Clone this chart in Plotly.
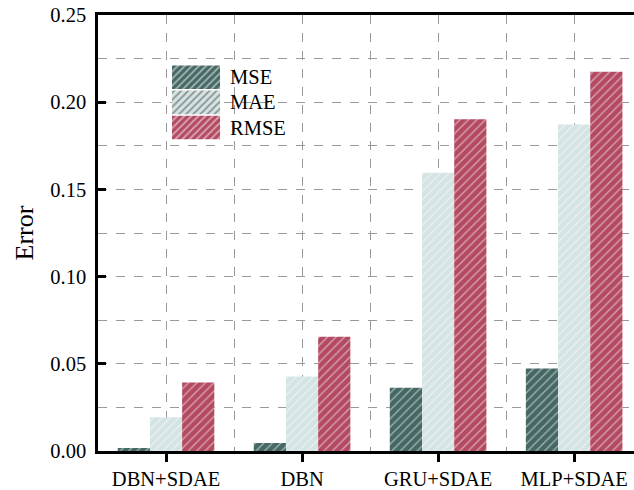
import plotly.graph_objects as go

categories = ["DBN+SDAE", "DBN", "GRU+SDAE", "MLP+SDAE"]
mse = [0.0017, 0.0046, 0.0363, 0.0473]
mae = [0.0194, 0.0427, 0.1595, 0.1872]
rmse = [0.0393, 0.0655, 0.1902, 0.2175]

series_names = ["MSE", "MAE", "RMSE"]
series_values = [mse, mae, rmse]
series_colors = ["#466865", "#d4e3e3", "#b34a62"]

y_tickvals = [0, 0.05, 0.10, 0.15, 0.20, 0.25]
y_ticktext = ["0.00", "0.05", "0.10", "0.15", "0.20", "0.25"]

font_family = "Liberation Serif"
font_size = 20.5
title_size = 26
xpos = list(range(len(categories)))

fig = go.Figure()
for name, vals, color in zip(series_names, series_values, series_colors):
    fig.add_trace(go.Bar(
        name=name,
        x=xpos,
        y=vals,
        showlegend=False,
        marker=dict(
            color=color,
            line=dict(width=0),
            pattern=dict(shape="/", fgcolor="white", bgcolor=color,
                         size=6, solidity=0.22, fillmode="overlay"),
        ),
    ))

# Legend key: patterned swatches on a small overlay axis, labels as annotations
fig.add_trace(go.Bar(
    x=[1, 1, 1],
    y=series_names,
    orientation="h",
    xaxis="x2",
    yaxis="y2",
    width=0.94,
    showlegend=False,
    hoverinfo="skip",
    marker=dict(
        color=series_colors,
        line=dict(width=0),
        pattern=dict(shape="/", fgcolor="white", bgcolor=series_colors,
                     size=5, solidity=0.35, fillmode="overlay"),
    ),
))

leg_x0, leg_x1 = 0.138, 0.228
leg_y0, leg_y1 = 0.713, 0.886
row_h = (leg_y1 - leg_y0) / 3
for i, name in enumerate(series_names):
    fig.add_annotation(
        xref="paper", yref="paper",
        x=0.243, y=leg_y1 - row_h * (i + 0.5),
        text=name, showarrow=False,
        xanchor="left", yanchor="middle",
        font=dict(family=font_family, size=font_size, color="black"),
    )

dash_grid = dict(showgrid=True, gridcolor="#9a9a9a", griddash="dash",
                 gridwidth=1, ticks="")

fig.update_layout(
    width=634,
    height=490,
    margin=dict(l=98, r=0, t=15, b=36),
    paper_bgcolor="white",
    plot_bgcolor="white",
    barmode="group",
    bargap=0.29,
    bargroupgap=0,
    font=dict(family=font_family, size=font_size, color="black"),
    showlegend=False,
    xaxis=dict(
        range=[-0.5, 3.44],
        tickmode="array",
        tickvals=xpos,
        ticktext=categories,
        ticks="outside",
        ticklen=8,
        tickwidth=2.5,
        tickcolor="black",
        showline=True,
        linecolor="black",
        linewidth=2.5,
        mirror=True,
        showgrid=False,
        zeroline=False,
        tickfont=dict(family=font_family, size=font_size),
        minor=dict(tickvals=[0, 0.5, 1, 1.5, 2, 2.5, 3], **dash_grid),
    ),
    yaxis=dict(
        range=[0, 0.25],
        tickmode="array",
        tickvals=y_tickvals,
        ticktext=y_ticktext,
        ticks="inside",
        ticklen=8,
        tickwidth=2.5,
        tickcolor="black",
        ticklabelstandoff=5,
        showline=True,
        linecolor="black",
        linewidth=2.5,
        showgrid=False,
        zeroline=False,
        tickfont=dict(family=font_family, size=font_size),
        title=dict(text="Error", standoff=10,
                   font=dict(family=font_family, size=title_size)),
        minor=dict(tickvals=[0.025 * i for i in range(1, 10)], **dash_grid),
    ),
    xaxis2=dict(domain=[leg_x0, leg_x1], anchor="y2", range=[0, 1],
                visible=False, fixedrange=True),
    yaxis2=dict(domain=[leg_y0, leg_y1], anchor="x2", range=[2.5, -0.5],
                visible=False, fixedrange=True, type="category",
                categoryorder="array", categoryarray=series_names),
)

fig.write_html("out.html")
